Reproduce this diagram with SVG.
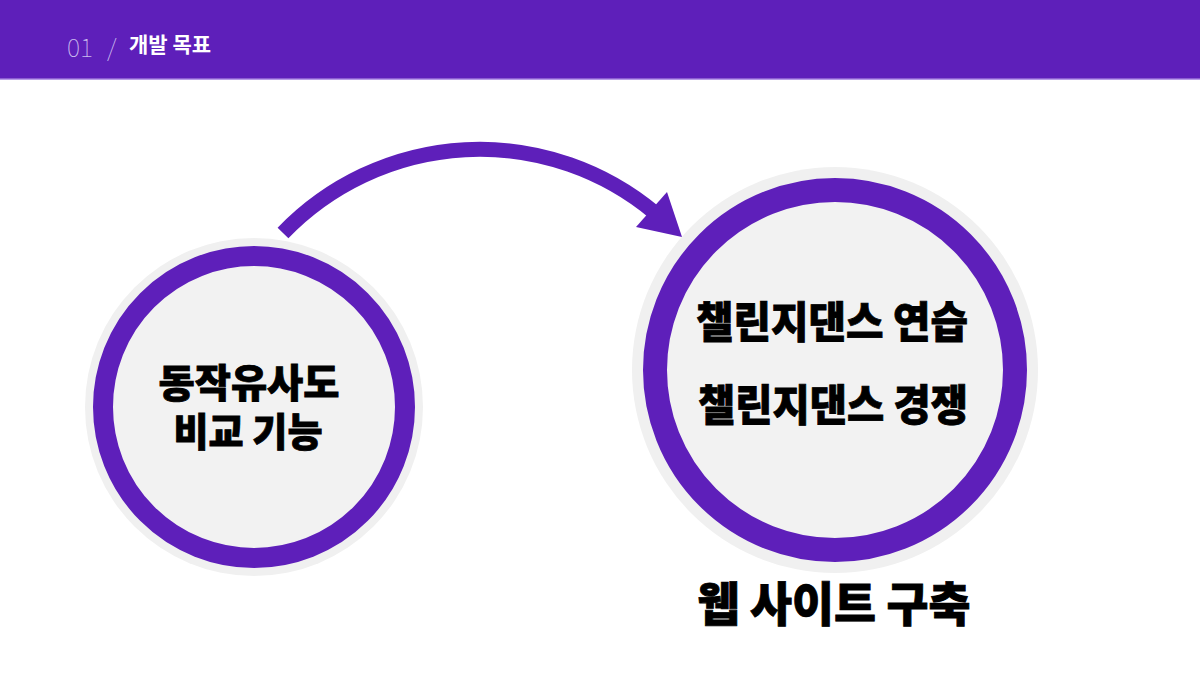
<svg xmlns="http://www.w3.org/2000/svg" width="1200" height="675" viewBox="0 0 1200 675">
<style>
.halo{fill:#f0f0f0}
.ring{fill:#f2f2f2;stroke:#5e1fba}
.lbl{font-family:"Noto Sans CJK KR","Noto Sans",sans-serif;font-weight:900;fill:#000;stroke:#000;stroke-width:0.8;text-anchor:middle}
.hd{font-family:"Noto Sans CJK KR","Noto Sans",sans-serif}
</style>
<rect x="0" y="0" width="1200" height="680" fill="#ffffff"/>
<g id="header">
<rect x="0" y="0" width="1200" height="79" fill="#5e1fba"/>
<rect x="0" y="78.5" width="1200" height="1.5" fill="#b89ce8"/>
<text class="hd" x="67" y="57" font-size="25" font-weight="100" fill="#cbbcef">01</text>
<text class="hd" x="107" y="57" font-size="24" font-weight="100" fill="#cbbcef">/</text>
<text class="hd" x="129" y="52" font-size="21" font-weight="700" fill="#ffffff">개발 목표</text>
</g>
<g id="connectors">
<path d="M 283 233 A 273 273 0 0 1 655 213" fill="none" stroke="#5e1fba" stroke-width="15"/>
<polygon points="682,237 667,192 636,227" fill="#5e1fba"/>
</g>
<g id="node-left">
<circle class="halo" cx="254" cy="407" r="169"/>
<circle class="ring" cx="254" cy="407" r="151" stroke-width="20"/>
<text class="lbl" x="249" y="397" font-size="39" textLength="181" lengthAdjust="spacingAndGlyphs">동작유사도</text>
<text class="lbl" x="248" y="446" font-size="39" textLength="149" lengthAdjust="spacingAndGlyphs">비교 기능</text>
</g>
<g id="node-right">
<circle class="halo" cx="835" cy="370" r="203"/>
<circle class="ring" cx="835" cy="370" r="180" stroke-width="24"/>
<text class="lbl" x="832" y="338" font-size="43" textLength="272" lengthAdjust="spacingAndGlyphs">챌린지댄스 연습</text>
<text class="lbl" x="833" y="421" font-size="43" textLength="270" lengthAdjust="spacingAndGlyphs">챌린지댄스 경쟁</text>
</g>
<g id="caption">
<text class="lbl" x="834" y="621" font-size="47" textLength="273" lengthAdjust="spacingAndGlyphs">웹 사이트 구축</text>
</g>
</svg>
